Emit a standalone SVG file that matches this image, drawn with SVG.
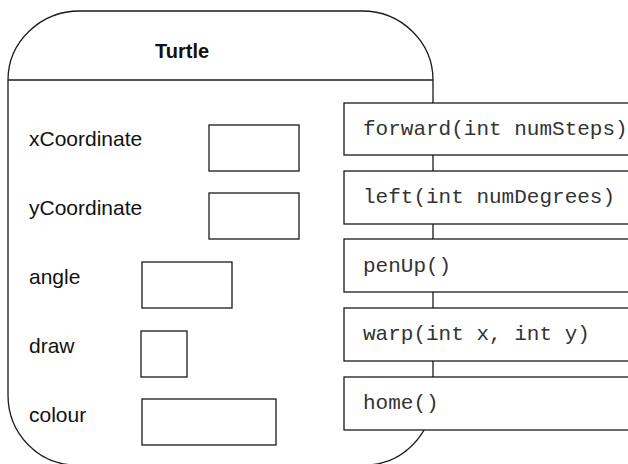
<svg xmlns="http://www.w3.org/2000/svg" width="628" height="464" viewBox="0 0 628 464">
<style>
.ln{fill:none;stroke:#1a1a1a;stroke-width:1.3}
.fld{fill:#fff;stroke:#1a1a1a;stroke-width:1.3}
.mb{fill:#fff;stroke:#1a1a1a;stroke-width:1.3}
.lbl{font-family:"Liberation Sans",Arial,sans-serif;font-size:21px;fill:#111}
.ttl{font-family:"Liberation Sans",Arial,sans-serif;font-size:20px;font-weight:bold;fill:#111}
.mt{font-family:"Liberation Mono","Courier New",monospace;font-size:21px;fill:#333}
</style>
<rect width="628" height="464" fill="#fff"/>
<g id="turtle">
<path class="ln" d="M8,80 A72,69 0 0 1 80,11 L362,11 A71,69 0 0 1 433,80 L433,395 A68,70 0 0 1 365,465 L76,465 A68,70 0 0 1 8,395 Z"/>
<line class="ln" x1="8" y1="80" x2="433" y2="80"/>
<text class="ttl" x="155" y="58">Turtle</text>
</g>
<g id="field-xCoordinate">
<text class="lbl" x="29" y="146">xCoordinate</text>
<rect class="fld" x="209" y="125" width="90" height="46"/>
</g>
<g id="field-yCoordinate">
<text class="lbl" x="29" y="215">yCoordinate</text>
<rect class="fld" x="209" y="193" width="90" height="46"/>
</g>
<g id="field-angle">
<text class="lbl" x="29" y="284">angle</text>
<rect class="fld" x="142" y="262" width="90" height="46"/>
</g>
<g id="field-draw">
<text class="lbl" x="29" y="353">draw</text>
<rect class="fld" x="141" y="331" width="46" height="46"/>
</g>
<g id="field-colour">
<text class="lbl" x="29" y="422">colour</text>
<rect class="fld" x="142" y="399" width="134" height="46"/>
</g>
<g id="method-forward">
<rect class="mb" x="344" y="103" width="300" height="52"/>
<text class="mt" x="363" y="135">forward(int numSteps)</text>
</g>
<g id="method-left">
<rect class="mb" x="344" y="171" width="300" height="53"/>
<text class="mt" x="363" y="203">left(int numDegrees)</text>
</g>
<g id="method-penUp">
<rect class="mb" x="344" y="239" width="300" height="53"/>
<text class="mt" x="363" y="272">penUp()</text>
</g>
<g id="method-warp">
<rect class="mb" x="344" y="308" width="300" height="53"/>
<text class="mt" x="363" y="340">warp(int x, int y)</text>
</g>
<g id="method-home">
<rect class="mb" x="344" y="377" width="300" height="53"/>
<text class="mt" x="363" y="409">home()</text>
</g>
</svg>
